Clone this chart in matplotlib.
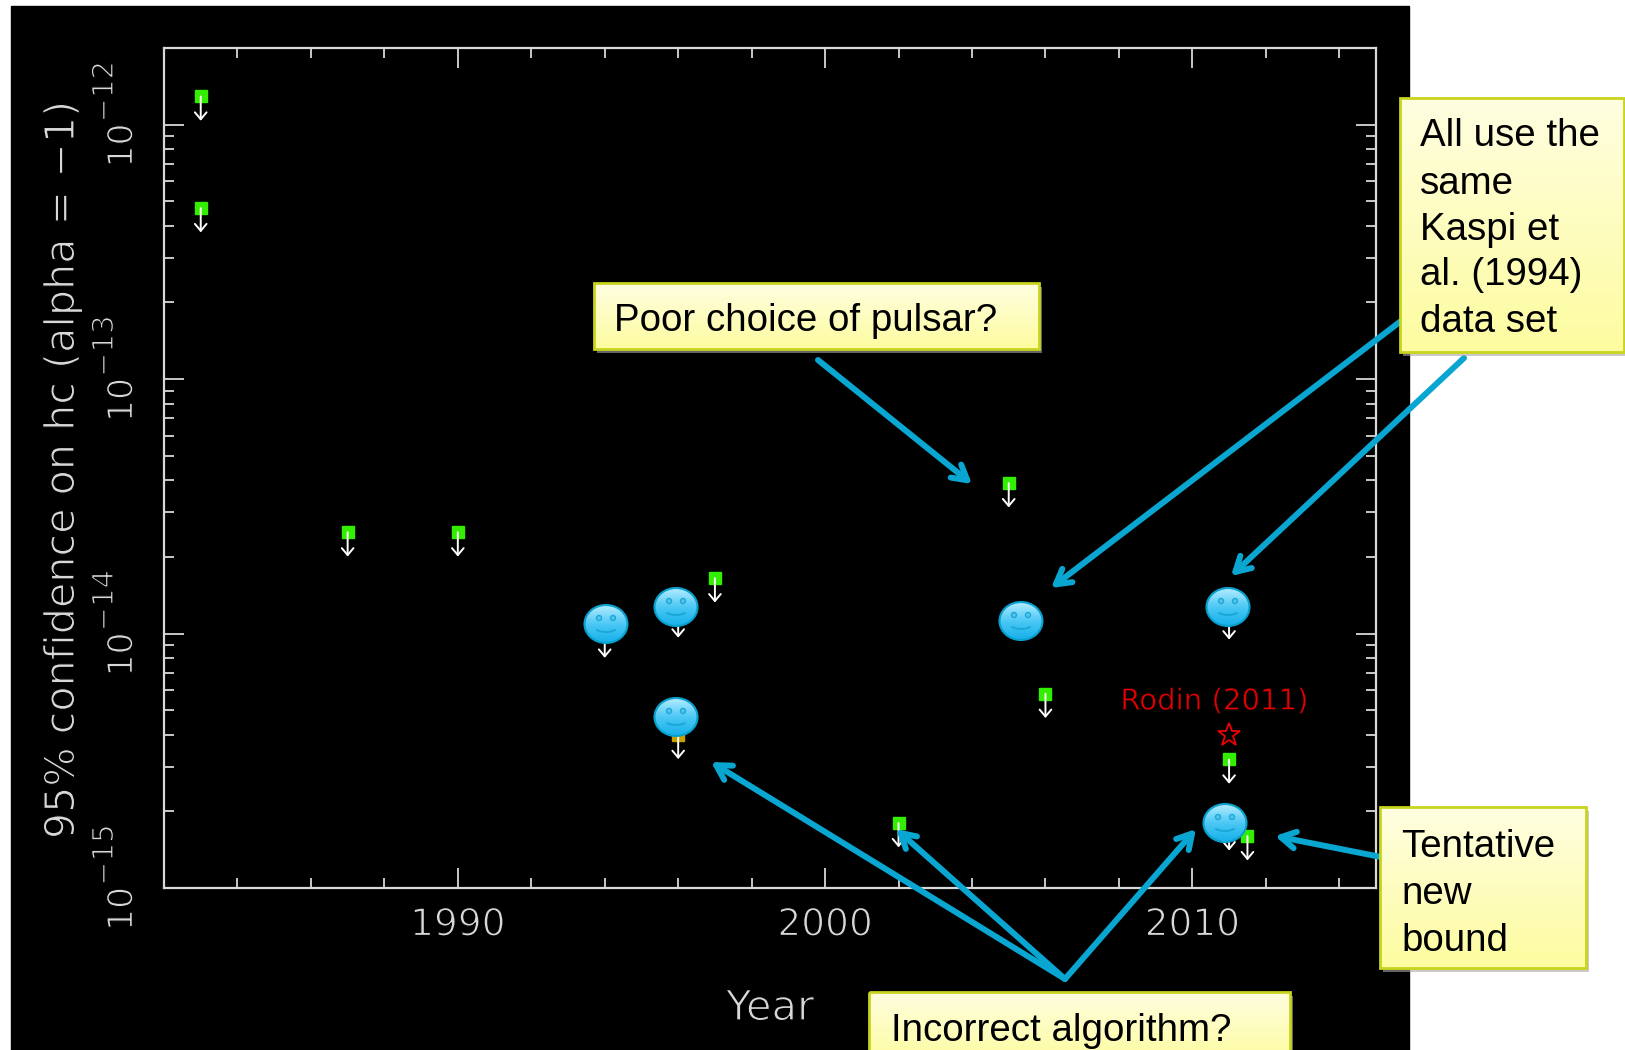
import matplotlib
matplotlib.use('Agg')
import matplotlib.pyplot as plt
import matplotlib.patheffects as pe
from matplotlib.colors import LinearSegmentedColormap
from matplotlib.patches import Ellipse, Rectangle, Arc
from matplotlib.ticker import FixedLocator, NullFormatter
import numpy as np

# upper limits
green_years = [1983, 1983, 1987, 1990, 1997, 2002, 2005, 2006, 2011, 2011.5]
green_limits = [1.29e-12, 4.7e-13, 2.5e-14, 2.5e-14, 1.65e-14, 1.8e-15, 3.9e-14, 5.8e-15, 3.2e-15, 1.6e-15]
hidden_years = [1994, 1996, 2011, 2011]
hidden_limits = [1.0e-14, 1.2e-14, 1.18e-14, 1.75e-15]
yellow_years = [1996]
yellow_limits = [4.0e-15]
rodin_year = 2011
rodin_limit = 4.0e-15

x_major = [1990, 2000, 2010]
y_major = [1e-15, 1e-14, 1e-13, 1e-12]
y_exponents = ['\u221215', '\u221214', '\u221213', '\u221212']

W, H = 1625, 1050
GREY = '#d8d8d8'
ARROW = '#0aa6d2'
thin = [pe.Normal(), pe.Stroke(linewidth=0.9, foreground='black')]

fig = plt.figure(figsize=(W / 100, H / 100), dpi=100, facecolor='white')

# background black slide
bg = fig.add_axes([0, 0, 1, 1], zorder=0)
bg.set_xlim(0, W)
bg.set_ylim(H, 0)
bg.axis('off')
bg.add_patch(Rectangle((11, 6), 1398, 1044, color='black'))

ax = fig.add_axes([164 / W, 1 - 888 / H, (1376 - 164) / W, (888 - 48) / H], zorder=1)
ax.set_facecolor('black')
ax.set_yscale('log')
ax.set_xlim(1982, 2015)
ax.set_ylim(1e-15, 2e-12)
for s in ax.spines.values():
    s.set_color(GREY)
    s.set_linewidth(1.6)

ax.set_xticks(x_major)
ax.xaxis.set_minor_locator(FixedLocator(np.arange(1982, 2016, 2)))
ax.set_yticks(y_major)
ax.set_yticklabels([])
ax.yaxis.set_minor_locator(FixedLocator([m * 10.0 ** e for e in range(-15, -11) for m in range(2, 10)]))
ax.yaxis.set_minor_formatter(NullFormatter())
ax.tick_params(which='major', direction='in', length=14.5, width=1.3, color=GREY, top=True, right=True,
               labelcolor=GREY, labelsize=27)
ax.tick_params(which='minor', direction='in', length=7.5, width=1.3, color=GREY, top=True, right=True)
ax.tick_params(axis='x', which='major', pad=14)
for t in ax.get_xticklabels():
    t.set_path_effects(thin)

# exponent is bigger than mathtext would make it, so two texts per tick
for y, exp in zip(y_major, y_exponents):
    ax.annotate('10', xy=(0, y), xycoords=('axes fraction', 'data'), xytext=(-30, -31), textcoords='offset points',
                rotation=90, ha='center', va='bottom', fontsize=25, color=GREY, path_effects=thin)
    ax.annotate(exp, xy=(0, y), xycoords=('axes fraction', 'data'), xytext=(-42.5, 1.5), textcoords='offset points',
                rotation=90, ha='center', va='bottom', fontsize=21, color=GREY, path_effects=thin)

ax.plot(green_years, green_limits, 's', color='#33ee00', ms=8, ls='none', zorder=3)
ax.plot(yellow_years, yellow_limits, 's', color='#c8a000', ms=8, ls='none', zorder=3)
for xs, ys in [(green_years, green_limits), (hidden_years, hidden_limits), (yellow_years, yellow_limits)]:
    for x, y in zip(xs, ys):
        ax.annotate('', xy=(x, y), xycoords='data', xytext=(0, -17.5), textcoords='offset points',
                    annotation_clip=False,
                    arrowprops=dict(arrowstyle='<-,head_length=0.5,head_width=0.42', color='white',
                                    lw=1.4, shrinkA=0, shrinkB=0), zorder=4)
ax.plot([rodin_year], [rodin_limit], '*', mfc='none', mec='#f00000', ms=17, mew=1.3, zorder=3)
ax.text(2010.6, 5.4e-15, 'Rodin (2011)', color='#e80000', fontsize=21, ha='center', va='center',
        path_effects=[pe.Normal(), pe.Stroke(linewidth=0.5, foreground='black')])

fig.text(770 / W, 1 - 1008 / H, 'Year', color=GREY, fontsize=30, ha='center', va='center', path_effects=thin)
fig.text(63 / W, 1 - 470 / H, '95% confidence on hc (alpha = \u22121)', color=GREY, fontsize=29.7, rotation=90,
         ha='center', va='center', path_effects=thin)

# slide overlay: smileys, callouts, arrows
top = fig.add_axes([0, 0, 1, 1], zorder=2)
top.patch.set_alpha(0)
top.axis('off')

blue = LinearSegmentedColormap.from_list('blue', ['#b4ecff', '#4cc8f4', '#16b0ea'])
box = LinearSegmentedColormap.from_list('box', ['#fffee0', '#fdfca0'])
grad = np.linspace(0, 1, 64).reshape(-1, 1)


def smiley(cx, cy):
    w, h = 43, 38
    e = Ellipse((cx, cy), w, h, transform=top.transData, fc='none')
    top.add_patch(e)
    im = top.imshow(grad, cmap=blue, aspect='auto', extent=(cx - w / 2, cx + w / 2, cy + h / 2, cy - h / 2), zorder=2)
    im.set_clip_path(e)
    top.add_patch(Ellipse((cx, cy), w, h, fc='none', ec='#08a0cc', lw=1.5, zorder=3))
    for dx in (-7, 7):
        top.add_patch(Ellipse((cx + dx, cy - 6), 5, 5, fc='#58c4ea', ec='#1aa8d8', lw=1, zorder=3))
    # arc angles flip with the inverted y axis
    top.add_patch(Arc((cx, cy + 2), 24, 12, theta1=20, theta2=160, ec='#1aa8d8', lw=1.4, zorder=3))


def callout(x0, y0, x1, y1, lines, tx):
    top.add_patch(Rectangle((x0 + 3, y0 + 4), x1 - x0, y1 - y0, fc='#a8a8a8', ec='none', alpha=0.6, zorder=5))
    top.imshow(grad, cmap=box, aspect='auto', extent=(x0, x1, y1, y0), zorder=6)
    top.add_patch(Rectangle((x0, y0), x1 - x0, y1 - y0, fc='none', ec='#c8d41e', lw=2, zorder=7))
    for text, ty in lines:
        top.text(tx, ty, text, fontsize=27.7, family='Liberation Sans', color='black', va='center', zorder=8)


def arrow(x0, y0, x1, y1):
    top.annotate('', xy=(x1, y1), xytext=(x0, y0),
                 arrowprops=dict(arrowstyle='->,head_length=1.05,head_width=0.6', color=ARROW, lw=4.3,
                                 shrinkA=0, shrinkB=0), zorder=4)


for cx, cy in [(606, 624), (676, 607), (676, 717), (1021, 621), (1228, 607), (1225, 823)]:
    smiley(cx, cy)

arrow(818, 360, 972, 484)
arrow(1401, 321, 1051, 588)
arrow(1464, 358, 1231, 576)
arrow(1381, 857, 1275, 836)
arrow(1065, 979, 711, 762)
arrow(1065, 979, 896, 829)
arrow(1065, 979, 1196, 829)

callout(594, 283, 1039, 349, [('Poor choice of pulsar?', 321)], 614)
callout(1400, 98, 1624, 352, [('All use the', 136), ('same', 184), ('Kaspi et', 230), ('al. (1994)', 275), ('data set', 322)], 1420)
callout(1380, 807, 1586, 968, [('Tentative', 847), ('new', 894), ('bound', 941)], 1401)
callout(869, 992, 1290, 1062, [('Incorrect algorithm?', 1031)], 891)

top.set_xlim(0, W)
top.set_ylim(H, 0)

fig.savefig('out.png', dpi=100)
